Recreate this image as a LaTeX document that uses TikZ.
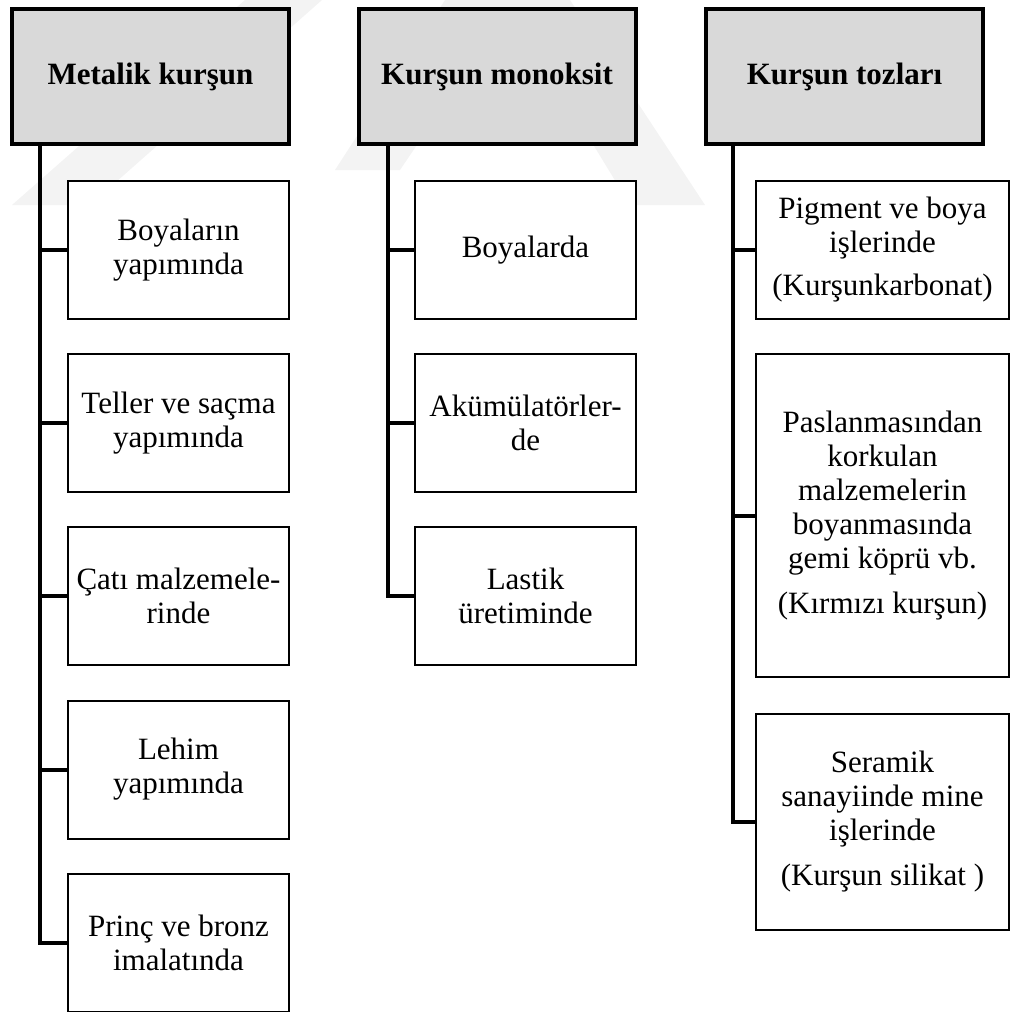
\documentclass[tikz,border=0pt]{standalone}
\usepackage{fontspec}
\setmainfont{Liberation Serif}
\definecolor{headgray}{HTML}{D9D9D9}
\definecolor{markgray}{HTML}{F3F3F3}
\begin{document}
\begin{tikzpicture}[x=1pt,y=-1pt,
  headbox/.style={draw, line width=4pt, fill=headgray, minimum width=277pt,
    minimum height=135pt, inner sep=0pt, align=center,
    font=\fontsize{31}{34}\selectfont\bfseries},
  itembox/.style={draw, line width=2pt, fill=white, inner sep=0pt, align=center,
    font=\fontsize{31}{34}\selectfont},
  narrowbox/.style={itembox, minimum width=221pt, minimum height=138pt},
  widebox/.style={itembox, minimum width=253pt},
  trunk/.style={line width=4pt, line join=miter}]
\useasboundingbox (0,0) rectangle (1012,1012);

% faint background stripes
\fill[markgray] (245,0) -- (322,0) -- (90,205) -- (12,205) -- cycle;
\fill[markgray] (445,0) -- (515,0) -- (400,170) -- (335,170) -- cycle;
\fill[markgray] (505,0) -- (570,0) -- (705,205) -- (630,205) -- cycle;

% column headers
\node[headbox] (h1) at (150.5,76.5) {Metalik kurşun};
\node[headbox] (h2) at (497,76.5) {Kurşun monoksit};
\node[headbox] (h3) at (844.5,76.5) {Kurşun tozları};

% trunk positions
\coordinate (t1) at (40,0);
\coordinate (t2) at (388,0);
\coordinate (t3) at (733,0);

% first column
\node[narrowbox] (a1) at (178.5,250) {Boyaların\\yapımında};
\node[narrowbox] (a2) at (178.5,423) {Teller ve saçma\\yapımında};
\node[narrowbox] (a3) at (178.5,596) {Çatı malzemele-\\rinde};
\node[narrowbox] (a4) at (178.5,769.5) {Lehim\\yapımında};
\node[narrowbox] (a5) at (178.5,943) {Prinç ve bronz\\imalatında};

% second column
\node[narrowbox] (b1) at (525.5,250) {Boyalarda};
\node[narrowbox] (b2) at (525.5,423) {Akümülatörler-\\de};
\node[narrowbox] (b3) at (525.5,596) {Lastik\\üretiminde};

% third column
\node[widebox, minimum height=138pt] (c1) at (882.5,250)
  {Pigment ve boya\\işlerinde\\[9pt](Kurşunkarbonat)};
\node[widebox, minimum height=323pt] (c2) at (882.5,515.5)
  {Paslanmasından\\korkulan\\malzemelerin\\boyanmasında\\gemi köprü vb.\\[11pt](Kırmızı kurşun)};
\node[widebox, minimum height=216pt] (c3) at (882.5,822)
  {Seramik\\sanayiinde mine\\işlerinde\\[11pt](Kurşun silikat )};

% connectors
\draw[trunk] (h1.south -| t1) |- (a5.west);
\foreach \n in {a1,a2,a3,a4} \draw[trunk] (\n.west) -- (\n.west -| t1);
\draw[trunk] (h2.south -| t2) |- (b3.west);
\foreach \n in {b1,b2} \draw[trunk] (\n.west) -- (\n.west -| t2);
\draw[trunk] (h3.south -| t3) |- (c3.west);
\foreach \n in {c1,c2} \draw[trunk] (\n.west) -- (\n.west -| t3);
\end{tikzpicture}
\end{document}
